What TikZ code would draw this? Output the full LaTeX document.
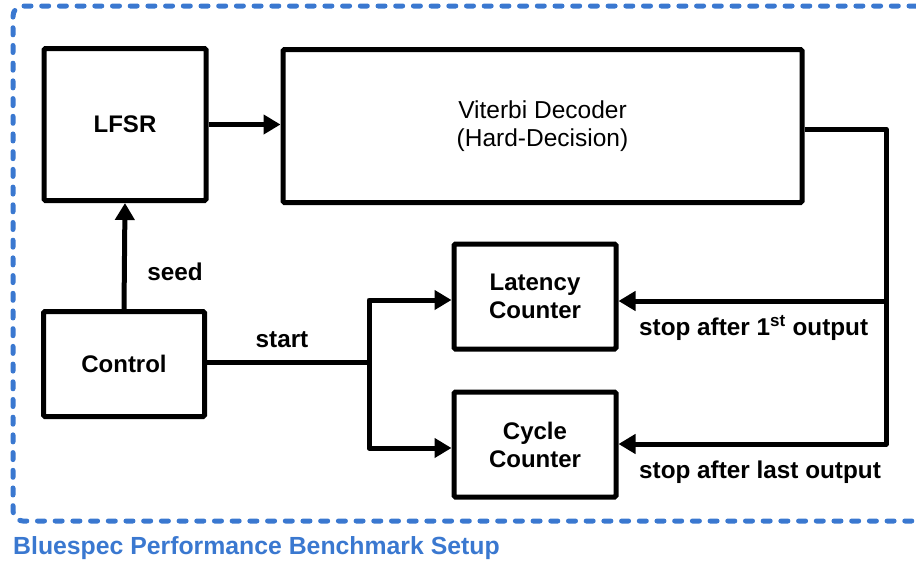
\documentclass[tikz,border=0pt]{standalone}
\usepackage{fontspec}
\setmainfont{Liberation Sans}
\usetikzlibrary{arrows.meta}
\definecolor{bsblue}{RGB}{58,120,208}
\begin{document}
\begin{tikzpicture}[x=1pt,y=-1pt,
  blk/.style={draw, line width=5pt, rounded corners=1.5pt, inner sep=0pt, outer sep=2.5pt, align=center,
    font=\fontsize{24}{28}\selectfont\bfseries},
  wire/.style={line width=5pt, line join=round},
  conn/.style={wire, -{Triangle[length=17pt,width=19pt]}},
  lbl/.style={font=\fontsize{24.3}{28}\selectfont\bfseries, inner sep=0pt}]
\useasboundingbox (0,0) rectangle (916,565);
% dashed frame
\draw[bsblue, line width=5pt, line cap=round, dash pattern=on 7pt off 10.7pt, rounded corners=10pt]
  (916,6) -- (13,6) -- (13,521) -- (916,521);
% blocks
\node[blk, minimum width=162pt, minimum height=152pt] (lfsr) at (125,124.5) {LFSR};
\node[blk, minimum width=519pt, minimum height=153pt, font=\fontsize{24.5}{28}\selectfont] (vit) at (542.5,126) {Viterbi Decoder\\(Hard-Decision)};
\node[blk, minimum width=161pt, minimum height=105pt] (ctrl) at (124,364) {Control};
\node[blk, minimum width=162pt, minimum height=105pt] (lat) at (535,296.5) {Latency\\Counter};
\node[blk, minimum width=162pt, minimum height=105pt] (cyc) at (535,444.5) {Cycle\\Counter};
% coordinates
\coordinate (br) at (369,362);
\coordinate (l1) at (369,300);
\coordinate (l2) at (369,448);
\coordinate (r0) at (886,129);
\coordinate (r1) at (886,301);
\coordinate (r2) at (886,444);
% connectors
\draw[conn] (lfsr) -- (vit.west |- lfsr);
\draw[conn] (ctrl.north) -- (lfsr.south);
\draw[wire] (ctrl.east |- br) -- (br);
\draw[conn] (br) -- (l1) -- (lat.west |- l1);
\draw[conn] (br) -- (l2) -- (cyc.west |- l2);
\draw[conn] (vit.east |- r0) -- (r0) -- (r2) -- (cyc.east |- r2);
\draw[conn] (r1) -- (lat.east |- r1);
% labels
\node[lbl] (seedl) at (175,272) {seed};
\node[lbl] (startl) at (282,340) {start};
\node[lbl, anchor=west] (stop1) at (639,328) {stop after 1\textsuperscript{st} output};
\node[lbl, anchor=west] (stop2) at (639,472) {stop after last output};
\node[lbl, anchor=west, text=bsblue, font=\fontsize{24.8}{28}\selectfont\bfseries] (cap) at (13,548) {Bluespec Performance Benchmark Setup};
\end{tikzpicture}
\end{document}
